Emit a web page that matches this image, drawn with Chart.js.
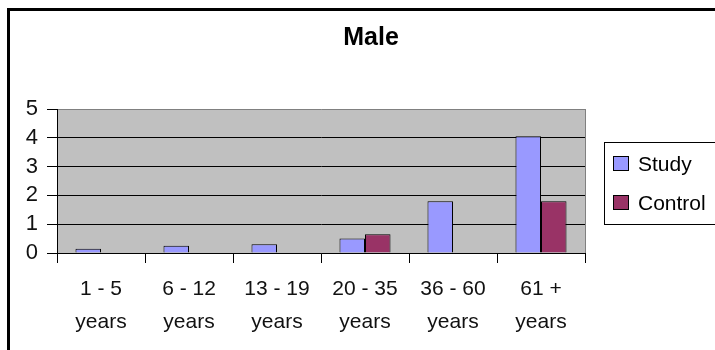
<!DOCTYPE html>
<html>
<head>
<meta charset="utf-8">
<script src="https://cdn.jsdelivr.net/npm/chart.js@4"></script>
<style>
  html, body { margin: 0; padding: 0; background: #fff; }
  canvas { display: block; }
</style>
</head>
<body>
<canvas id="c" width="715" height="350"></canvas>
<script>
// Age groups and counts for the male cohort
const titleText = 'Male';
const ageGroups = [
  ['1 - 5', 'years'],
  ['6 - 12', 'years'],
  ['13 - 19', 'years'],
  ['20 - 35', 'years'],
  ['36 - 60', 'years'],
  ['61 +', 'years']
];
const studyValues = [0.15, 0.25, 0.3, 0.5, 1.8, 4.05];
const controlValues = [0, 0, 0, 0.65, 0, 1.8];
const seriesNames = ['Study', 'Control'];
const seriesColors = ['#9999FF', '#993366'];
const yTicks = [0, 1, 2, 3, 4, 5];

const FONT = '"Liberation Sans", Arial, sans-serif';

// Outer frame, plot background and the grey top/right plot edges
const framePlugin = {
  id: 'frame',
  beforeDraw(chart) {
    const { ctx, chartArea: a } = chart;
    ctx.save();
    ctx.fillStyle = '#fff';
    ctx.fillRect(0, 0, chart.width, chart.height);
    ctx.strokeStyle = '#000';
    ctx.lineWidth = 3;
    ctx.strokeRect(8.5, 9.5, 900, 500);
    ctx.fillStyle = '#C0C0C0';
    ctx.fillRect(a.left, a.top, a.right - a.left, a.bottom - a.top);
    ctx.restore();
  },
  afterDraw(chart) {
    const { ctx, chartArea: a } = chart;
    ctx.save();
    ctx.strokeStyle = '#808080';
    ctx.lineWidth = 1;
    ctx.beginPath();
    ctx.moveTo(Math.round(a.right) + 0.5, a.top);
    ctx.lineTo(Math.round(a.right) + 0.5, a.bottom);
    ctx.stroke();

    // title
    ctx.fillStyle = '#000';
    ctx.font = 'bold 25px ' + FONT;
    ctx.textAlign = 'center';
    ctx.textBaseline = 'middle';
    ctx.fillText(titleText, 371, 38);

    // legend box
    ctx.strokeStyle = '#000';
    ctx.lineWidth = 1;
    ctx.strokeRect(604.5, 142.5, 200, 82);
    ctx.font = '21px ' + FONT;
    ctx.textAlign = 'left';
    const rows = [164, 203];
    chart.data.datasets.forEach((ds, i) => {
      const y = rows[i];
      ctx.fillStyle = ds.backgroundColor;
      ctx.fillRect(613.5, y - 7.5, 15, 14);
      ctx.strokeStyle = '#000';
      ctx.strokeRect(613.5, y - 7.5, 15, 14);
      ctx.fillStyle = '#000';
      ctx.fillText(ds.label, 638, y + 1);
    });
    ctx.restore();
  }
};

new Chart(document.getElementById('c'), {
  type: 'bar',
  data: {
    labels: ageGroups,
    datasets: [
      { label: seriesNames[0], data: studyValues, backgroundColor: seriesColors[0], borderColor: '#000', borderWidth: 1 },
      { label: seriesNames[1], data: controlValues, backgroundColor: seriesColors[1], borderColor: '#000', borderWidth: 1 }
    ]
  },
  options: {
    responsive: false,
    animation: false,
    events: [],
    layout: { padding: { top: 109, right: 130, left: 0, bottom: 0 } },
    datasets: { bar: { categoryPercentage: 0.58, barPercentage: 1.0 } },
    plugins: { legend: { display: false }, title: { display: false }, tooltip: { enabled: false } },
    scales: {
      x: {
        afterFit(s) { s.height = 97; },
        grid: { offset: true, drawOnChartArea: false, drawTicks: true, tickLength: 10, color: '#000', lineWidth: 1 },
        border: { color: '#000', width: 1 },
        ticks: { color: '#111', font: { family: FONT, size: 21, lineHeight: 1.6 }, padding: 9, maxRotation: 0, autoSkip: false }
      },
      y: {
        min: yTicks[0],
        max: yTicks[yTicks.length - 1],
        afterFit(s) { s.width = 57; },
        afterBuildTicks(s) { s.ticks = yTicks.map(v => ({ value: v })); },
        grid: {
          color: c => (c.tick && c.tick.value === 5 ? '#808080' : '#000'),
          tickColor: '#000',
          tickLength: 10,
          lineWidth: 1
        },
        border: { color: '#000', width: 1 },
        ticks: { color: '#111', font: { family: FONT, size: 22 }, padding: 9, autoSkip: false }
      }
    }
  },
  plugins: [framePlugin]
});
</script>
</body>
</html>
